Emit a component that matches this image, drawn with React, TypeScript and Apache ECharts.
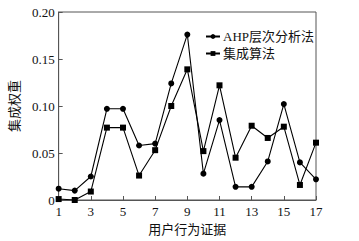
import React, { useEffect, useRef } from "react";
import * as echarts from "echarts";

const categories = ["1","2","3","4","5","6","7","8","9","10","11","12","13","14","15","16","17"];
const ahpValues = [0.012, 0.010, 0.025, 0.097, 0.097, 0.058, 0.060, 0.124, 0.176, 0.028, 0.085, 0.014, 0.014, 0.041, 0.102, 0.040, 0.022];
const integratedValues = [0.001, 0.000, 0.009, 0.077, 0.077, 0.026, 0.053, 0.100, 0.139, 0.052, 0.122, 0.045, 0.079, 0.066, 0.078, 0.016, 0.061];
const seriesNames = ["AHP层次分析法", "集成算法"];
const xName = "用户行为证据";
const yName = "集成权重";

const FONT = "'Liberation Serif', 'Times New Roman', 'Noto Sans CJK SC', serif";

export default function App() {
  const ref = useRef<HTMLDivElement>(null);
  useEffect(() => {
    if (!ref.current) return;
    const chart = echarts.init(ref.current, undefined, { renderer: "svg" });
    chart.setOption({
      animation: false,
      backgroundColor: "#fff",
      textStyle: { fontFamily: FONT, color: "#111" },
      grid: {
        left: 56, right: 43, top: 12, bottom: 41,
        show: true, borderColor: "#555", borderWidth: 1,
      },
      legend: {
        orient: "vertical",
        left: 200, top: 25,
        itemWidth: 14, itemHeight: 6, itemGap: 4,
        data: seriesNames,
        textStyle: { fontFamily: FONT, fontSize: 13, color: "#111", padding: [0, 0, 0, -2] },
      },
      xAxis: {
        type: "category",
        data: categories,
        boundaryGap: false,
        name: xName,
        nameLocation: "middle",
        nameGap: 22,
        nameTextStyle: { fontFamily: FONT, fontSize: 13, color: "#111" },
        axisLine: { lineStyle: { color: "#555", width: 1 } },
        axisTick: { inside: true, length: 4, interval: 1, lineStyle: { color: "#555" } },
        axisLabel: { interval: 1, margin: 5, fontFamily: FONT, fontSize: 13, color: "#111" },
        splitLine: { show: false },
      },
      yAxis: {
        type: "value",
        min: 0, max: 0.2, interval: 0.05,
        name: yName,
        nameLocation: "middle",
        nameGap: 33,
        nameRotate: 90,
        nameTextStyle: { fontFamily: FONT, fontSize: 13, color: "#111" },
        axisLine: { show: true, lineStyle: { color: "#555", width: 1 } },
        axisTick: { show: true, inside: true, length: 4, lineStyle: { color: "#555" } },
        axisLabel: {
          margin: 4, fontFamily: FONT, fontSize: 13, color: "#111",
          formatter: (v: number) => (v === 0 ? "0" : v.toFixed(2)),
        },
        splitLine: { show: false },
      },
      series: [
        {
          name: seriesNames[0],
          type: "line",
          data: ahpValues,
          symbol: "circle",
          symbolSize: 6,
          lineStyle: { color: "#000", width: 1.1 },
          itemStyle: { color: "#000" },
        },
        {
          name: seriesNames[1],
          type: "line",
          data: integratedValues,
          symbol: "rect",
          symbolSize: 6,
          lineStyle: { color: "#000", width: 1.1 },
          itemStyle: { color: "#000" },
        },
      ],
    });
    return () => chart.dispose();
  }, []);
  return <div ref={ref} style={{ width: 359, height: 241, position: "absolute", left: 0, top: 0 }} />;
}
